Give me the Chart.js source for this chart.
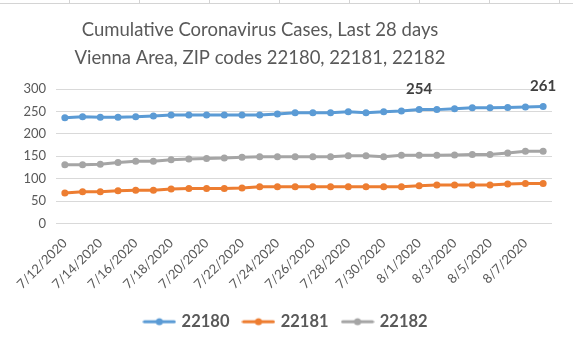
<!DOCTYPE html>
<html>
<head>
<meta charset="utf-8">
<script src="https://cdn.jsdelivr.net/npm/chart.js@4"></script>
<style>
  html, body { margin: 0; padding: 0; background: #fff; }
  #wrap { position: relative; width: 573px; height: 348px; }
  #cells {
    position: absolute; left: 0; top: 0; width: 573px; height: 3px;
    border-bottom: 1px solid #d4d4d4;
    background: repeating-linear-gradient(90deg, transparent 0 69px, #d4d4d4 69px 70px);
  }
  canvas { position: absolute; left: 0; top: 0; }
</style>
</head>
<body>
<div id="wrap">
  <div id="cells"></div>
  <canvas id="chart" width="573" height="348"></canvas>
</div>
<script>
const days = [
  "7/12/2020", "7/13/2020", "7/14/2020", "7/15/2020", "7/16/2020", "7/17/2020", "7/18/2020",
  "7/19/2020", "7/20/2020", "7/21/2020", "7/22/2020", "7/23/2020", "7/24/2020", "7/25/2020",
  "7/26/2020", "7/27/2020", "7/28/2020", "7/29/2020", "7/30/2020", "7/31/2020", "8/1/2020",
  "8/2/2020", "8/3/2020", "8/4/2020", "8/5/2020", "8/6/2020", "8/7/2020", "8/8/2020",
];
const zip22180 = [236, 238, 237, 237, 238, 240, 242, 242, 242, 242, 242, 242, 244, 247,
  247, 247, 249, 247, 249, 251, 254, 254, 256, 258, 258, 259, 260, 261];
const zip22181 = [68, 71, 71, 73, 74, 74, 77, 78, 78, 78, 79, 82, 82, 82,
  82, 82, 82, 82, 82, 82, 84, 86, 86, 86, 86, 88, 89, 89];
const zip22182 = [131, 131, 132, 136, 139, 139, 142, 144, 145, 146, 148, 149, 149, 149,
  149, 149, 151, 151, 149, 152, 152, 152, 153, 154, 154, 157, 161, 161];
const labelledPoints = [20, 27]; // indexes of 22180 that carry a value label
const yTicks = [0, 50, 100, 150, 200, 250, 300];
const titleLines = [
  "Cumulative Coronavirus Cases, Last 28 days",
  "Vienna Area, ZIP codes 22180, 22181, 22182",
];

const FONT = "Lato, 'Open Sans', sans-serif";
const colors = { "22180": "#5B9BD5", "22181": "#ED7D31", "22182": "#A5A5A5" };

// line-with-dot swatch for the legend, like Excel's
function swatch(color) {
  const c = document.createElement("canvas");
  c.width = 34;
  c.height = 10;
  const g = c.getContext("2d");
  g.strokeStyle = color;
  g.lineWidth = 3;
  g.lineCap = "round";
  g.beginPath();
  g.moveTo(2, 5);
  g.lineTo(32, 5);
  g.stroke();
  g.fillStyle = color;
  g.beginPath();
  g.arc(17, 5, 3.5, 0, Math.PI * 2);
  g.fill();
  return c;
}

const series = [
  ["22180", zip22180],
  ["22181", zip22181],
  ["22182", zip22182],
];

// the title sits a little left of centre in the original, so draw it by hand
const chartTitle = {
  id: "chartTitle",
  afterDraw(chart) {
    const ctx = chart.ctx;
    ctx.save();
    ctx.font = `18.5px ${FONT}`;
    ctx.fillStyle = "#595959";
    ctx.textAlign = "center";
    ctx.textBaseline = "middle";
    titleLines.forEach((t, i) => ctx.fillText(t, 260, 30 + i * 28));
    ctx.restore();
  },
};

const valueLabels = {
  id: "valueLabels",
  afterDatasetsDraw(chart) {
    const meta = chart.getDatasetMeta(0);
    const ctx = chart.ctx;
    ctx.save();
    ctx.font = `bold 15px ${FONT}`;
    ctx.fillStyle = "#404040";
    ctx.textAlign = "center";
    ctx.textBaseline = "middle";
    labelledPoints.forEach((i) => {
      const pt = meta.data[i];
      ctx.fillText(String(zip22180[i]), pt.x, pt.y - 20);
    });
    ctx.restore();
  },
};

new Chart(document.getElementById("chart"), {
  type: "line",
  data: {
    labels: days,
    datasets: series.map(([name, values]) => ({
      label: name,
      data: values,
      borderColor: colors[name],
      backgroundColor: colors[name],
      borderWidth: 3,
      pointRadius: 3.5,
      pointBorderWidth: 0,
      pointBackgroundColor: colors[name],
      tension: 0,
    })),
  },
  options: {
    responsive: false,
    animation: false,
    devicePixelRatio: 1,
    layout: { padding: { left: 0, right: 0, top: 89, bottom: 8 } },
    scales: {
      x: {
        offset: true,
        grid: { display: false },
        border: { display: false },
        ticks: {
          autoSkip: false,
          maxRotation: 45,
          minRotation: 45,
          padding: 4,
          color: "#595959",
          font: { family: FONT, size: 13 },
          callback: (v, i) => (i % 2 === 0 ? days[i] : ""),
        },
        afterFit: (s) => { s.height = 75; },
      },
      y: {
        min: 0,
        max: 300,
        afterBuildTicks: (s) => { s.ticks = yTicks.map((v) => ({ value: v })); },
        grid: { color: "#d9d9d9", lineWidth: 1, drawTicks: false },
        border: { display: false },
        ticks: {
          padding: 10,
          color: "#595959",
          font: { family: FONT, size: 13 },
        },
        afterFit: (s) => { s.width = 56; },
      },
      // empty strip on the right so the legend stays centred on the page
      spacer: {
        position: "right",
        grid: { display: false },
        border: { display: false },
        ticks: { display: false },
        afterFit: (s) => { s.width = 21; },
      },
    },
    plugins: {
      title: { display: false },
      legend: {
        position: "bottom",
        labels: {
          usePointStyle: true,
          pointStyleWidth: 28,
          padding: 15,
          color: "#595959",
          font: { family: FONT, size: 16.5, weight: "bold" },
          generateLabels: (chart) =>
            chart.data.datasets.map((ds, i) => ({
              text: ds.label,
              pointStyle: swatch(ds.borderColor),
              fillStyle: ds.borderColor,
              strokeStyle: ds.borderColor,
              fontColor: "#595959",
              lineWidth: 0,
              hidden: false,
              datasetIndex: i,
            })),
        },
      },
      tooltip: { enabled: false },
    },
  },
  plugins: [chartTitle, valueLabels],
});
</script>
</body>
</html>
